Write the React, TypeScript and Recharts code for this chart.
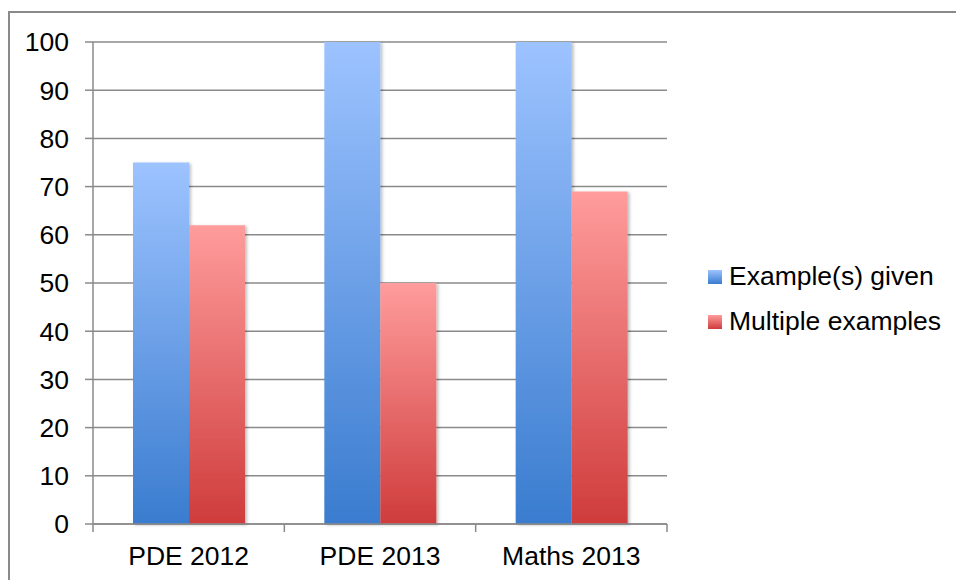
import React from "react";
import {
  BarChart,
  Bar,
  XAxis,
  YAxis,
  CartesianGrid,
} from "recharts";

// survey results, percent of respondents
const categories = ["PDE 2012", "PDE 2013", "Maths 2013"];
const exampleGiven = [75, 100, 100];
const multipleExamples = [62, 50, 69];
const yTicks = [0, 10, 20, 30, 40, 50, 60, 70, 80, 90, 100];

const seriesNames = {
  given: "Example(s) given",
  multiple: "Multiple examples",
};

const data = categories.map((name, i) => ({
  name,
  given: exampleGiven[i],
  multiple: multipleExamples[i],
}));

const PAGE_W = 956;
const PAGE_H = 580;
const W = 948;
const H = 572;
const MARGIN = { top: 34, right: 289, bottom: 16, left: 0 };
const Y_AXIS_W = 85;
const PLOT_W = W - MARGIN.left - MARGIN.right - Y_AXIS_W;
const BAND = PLOT_W / categories.length;
const FONT = "'Liberation Sans', Arial, sans-serif";
const FONT_SIZE = 26.5;
const GRID = "#8a8a8a";

const BLUE_TOP = "#9dc3ff";
const BLUE_BOTTOM = "#3a7ccf";
const RED_TOP = "#ff9c9c";
const RED_BOTTOM = "#cf3c3c";

// category label plus the boundary tick marks on either side of the band
const CategoryTick = (props: any) => {
  const { x, y, payload, index } = props;
  const left = x - BAND / 2;
  const right = x + BAND / 2;
  return (
    <g>
      <line x1={left} x2={left} y1={y} y2={y + 8} stroke={GRID} strokeWidth={1.5} />
      {index === categories.length - 1 && (
        <line x1={right} x2={right} y1={y} y2={y + 8} stroke={GRID} strokeWidth={1.5} />
      )}
      <text
        x={x}
        y={y + 41}
        textAnchor="middle"
        fill="#000"
        fontSize={FONT_SIZE}
        fontFamily={FONT}
      >
        {payload.value}
      </text>
    </g>
  );
};

const LegendBox = () => {
  const items = [
    { label: seriesNames.given, top: BLUE_TOP, bottom: BLUE_BOTTOM },
    { label: seriesNames.multiple, top: RED_TOP, bottom: RED_BOTTOM },
  ];
  return (
    <div style={{ position: "absolute", left: 708, top: 254 }}>
      {items.map((it) => (
        <div
          key={it.label}
          style={{ display: "flex", alignItems: "center", height: 45 }}
        >
          <span
            style={{
              display: "inline-block",
              width: 14,
              height: 14,
              marginRight: 7,
              background: `linear-gradient(${it.top}, ${it.bottom})`,
            }}
          />
          <span
            style={{
              fontSize: FONT_SIZE,
              color: "#000",
              fontFamily: FONT,
              whiteSpace: "nowrap",
            }}
          >
            {it.label}
          </span>
        </div>
      ))}
    </div>
  );
};

export default function App() {
  return (
    <div
      style={{
        position: "relative",
        width: PAGE_W,
        height: PAGE_H,
        overflow: "hidden",
        background: "#fff",
        fontFamily: FONT,
      }}
    >
      <style>{"html, body { margin: 0; padding: 0; overflow: hidden; }"}</style>
      {/* outer frame: top and left edges */}
      <div
        style={{
          position: "absolute",
          left: 8,
          top: 11,
          width: PAGE_W - 8,
          height: 2,
          background: GRID,
        }}
      />
      <div
        style={{
          position: "absolute",
          left: 8,
          top: 11,
          width: 2,
          height: PAGE_H - 11,
          background: GRID,
        }}
      />
      <div style={{ position: "absolute", left: 8, top: 8 }}>
        <BarChart
          width={W}
          height={H}
          data={data}
          margin={MARGIN}
          barGap={0}
          barCategoryGap={40}
        >
          <defs>
            <linearGradient id="gradBlue" x1="0" y1="0" x2="0" y2="1">
              <stop offset="0%" stopColor={BLUE_TOP} />
              <stop offset="100%" stopColor={BLUE_BOTTOM} />
            </linearGradient>
            <linearGradient id="gradRed" x1="0" y1="0" x2="0" y2="1">
              <stop offset="0%" stopColor={RED_TOP} />
              <stop offset="100%" stopColor={RED_BOTTOM} />
            </linearGradient>
            <filter id="barShadow" x="-10%" y="-10%" width="130%" height="130%">
              <feDropShadow dx="2" dy="1" stdDeviation="1.5" floodColor="#000" floodOpacity="0.25" />
            </filter>
          </defs>
          <CartesianGrid vertical={false} stroke={GRID} strokeWidth={1.5} />
          <XAxis
            dataKey="name"
            height={40}
            axisLine={{ stroke: GRID, strokeWidth: 1.5 }}
            tickLine={false}
            tickSize={0}
            tickMargin={0}
            tick={<CategoryTick />}
            interval={0}
          />
          <YAxis
            width={Y_AXIS_W}
            domain={[0, 100]}
            ticks={yTicks}
            interval={0}
            axisLine={{ stroke: GRID, strokeWidth: 1.5 }}
            tickLine={{ stroke: GRID, strokeWidth: 1.5 }}
            tickSize={8}
            tickMargin={16}
            tick={{ fill: "#000", fontSize: FONT_SIZE, fontFamily: FONT }}
          />
          <Bar
            dataKey="given"
            name={seriesNames.given}
            fill="url(#gradBlue)"
            filter="url(#barShadow)"
            isAnimationActive={false}
          />
          <Bar
            dataKey="multiple"
            name={seriesNames.multiple}
            fill="url(#gradRed)"
            filter="url(#barShadow)"
            isAnimationActive={false}
          />
        </BarChart>
      </div>
      <LegendBox />
    </div>
  );
}
